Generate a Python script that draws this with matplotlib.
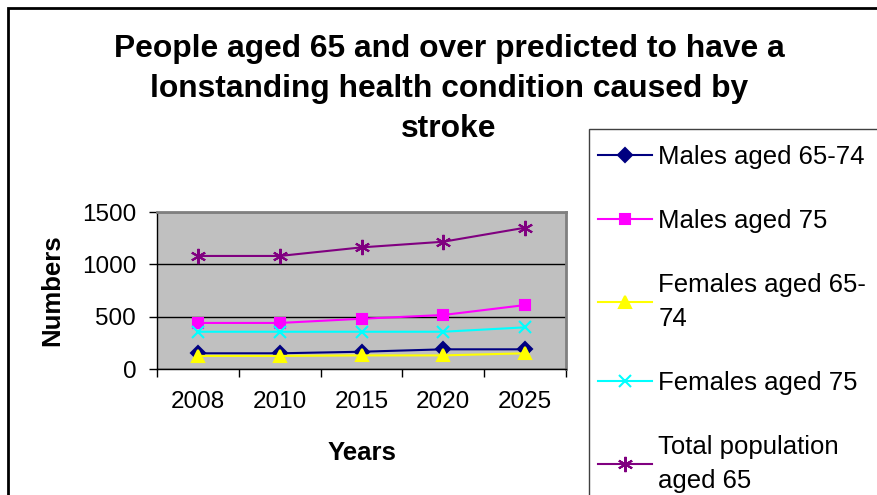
import numpy as np
import matplotlib
matplotlib.use("Agg")
import matplotlib.pyplot as plt
from matplotlib.patches import Rectangle
from matplotlib.ticker import FixedLocator, NullFormatter

plt.rcParams["font.family"] = ["Liberation Sans", "DejaVu Sans"]

years = ["2008", "2010", "2015", "2020", "2025"]
males_65_74 = [150, 150, 165, 188, 188]
males_75 = [440, 440, 480, 516, 611]
females_65_74 = [125, 125, 130, 130, 150]
females_75 = [356, 356, 356, 356, 398]
total_65 = [1080, 1080, 1162, 1216, 1350]

series = [
    ("Males aged 65-74", males_65_74, "#000080", "D", 7),
    ("Males aged 75", males_75, "#FF00FF", "s", 7),
    ("Females aged 65-\n74", females_65_74, "#FFFF00", "^", 8),
    ("Females aged 75", females_75, "#00FFFF", "x", 8),
    ("Total population\naged 65", total_65, "#800080", (6, 2, 0), 11),
]

W, H = 877, 495
fig = plt.figure(figsize=(W / 100, H / 100), dpi=100)

# outer chart border (cut off on right and bottom)
fig.patches.append(Rectangle((8 / W, -0.1), 1.2, 1.1 - 8 / H, transform=fig.transFigure,
                             fill=False, edgecolor="black", lw=2, zorder=0.5))

ax = fig.add_axes([157 / W, 1 - 369 / H, (566 - 157) / W, (369 - 212) / H])
ax.set_facecolor("#C0C0C0")

x = np.arange(len(years))
for label, vals, color, marker, ms in series:
    ax.plot(x, vals, color=color, lw=1.5, marker=marker, ms=ms, mew=1.5,
            mec=color, mfc=color, label=label)

ax.set_xlim(-0.5, len(years) - 0.5)
ax.set_ylim(0, 1500)
ax.set_yticks([0, 500, 1000, 1500])
ax.yaxis.grid(True, color="black", lw=1)
ax.set_axisbelow(True)
ax.tick_params(axis="y", direction="out", length=6, width=1, pad=9, labelsize=17.5)

ax.xaxis.set_major_locator(FixedLocator(np.arange(len(years) + 1) - 0.5))
ax.xaxis.set_major_formatter(NullFormatter())
ax.xaxis.set_minor_locator(FixedLocator(x))
ax.set_xticklabels(years, minor=True)
ax.tick_params(axis="x", which="major", direction="out", length=6, width=1)
ax.tick_params(axis="x", which="minor", length=0, pad=16, labelsize=17.5)

for s in ["top", "right"]:
    ax.spines[s].set_color("#808080")
    ax.spines[s].set_linewidth(2)
for s in ["left", "bottom"]:
    ax.spines[s].set_color("black")
    ax.spines[s].set_linewidth(1)

fig.text(52 / W, 1 - 290 / H, "Numbers", rotation=90, ha="center", va="center",
         fontsize=18.5, fontweight="bold")
fig.text(362 / W, 1 - 453 / H, "Years", ha="center", va="center",
         fontsize=18.5, fontweight="bold")

fig.text(449 / W, 1 - 89 / H,
         "People aged 65 and over predicted to have a\nlonstanding health condition caused by\nstroke",
         ha="center", va="center", fontsize=22.9, fontweight="bold", linespacing=1.45)

# legend frame (extends past figure edge like the original)
fig.patches.append(Rectangle((589 / W, -0.1), 1.0, 1.1 - 129 / H, transform=fig.transFigure,
                             fill=True, facecolor="white", edgecolor="#404040", lw=1,
                             zorder=1))
handles, labels = ax.get_legend_handles_labels()
leg = fig.legend(handles, labels, loc="upper left", bbox_to_anchor=(598 / W, 1 - 145 / H),
                 bbox_transform=fig.transFigure, frameon=False, fontsize=18.5,
                 borderpad=0, borderaxespad=0, handlelength=2.1, handletextpad=0.25,
                 labelspacing=1.55)
for t in leg.get_texts():
    t.set_linespacing(1.55)
leg.set_zorder(5)

fig.savefig("out.png", dpi=100)
